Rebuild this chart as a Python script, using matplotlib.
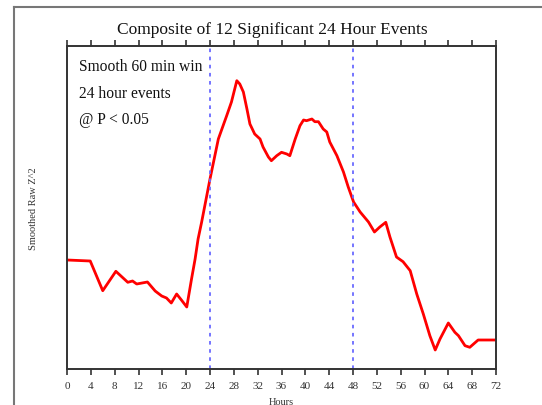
import matplotlib
matplotlib.use("Agg")
import matplotlib.pyplot as plt
from matplotlib.lines import Line2D

plt.rcParams['font.family'] = ['Liberation Serif', 'DejaVu Serif']

hours = [0, 3.9, 6.0, 8.2, 10.2, 11.0, 11.7, 13.5, 14.8, 15.9, 16.7, 17.5, 18.4, 19.2, 20.1,
         20.9, 21.5, 22.0, 22.6, 24.0, 25.4, 26.0, 26.8, 27.6, 28.5, 29.0, 29.6, 30.2, 30.7,
         31.5, 32.4, 32.9, 33.8, 34.3, 35.2, 36.0, 36.9, 37.4, 38.3, 39.1, 39.7, 40.2, 41.1,
         41.6, 42.2, 43.0, 43.6, 44.1, 45.3, 46.4, 47.2, 48.1, 49.2, 50.6, 51.6, 52.5, 53.5,
         54.2, 55.3, 56.4, 57.6, 58.7, 59.8, 60.9, 61.8, 62.6, 64.0, 65.1, 65.7, 66.8, 67.6,
         69.0, 72.0]
pix = [261, 262, 291.7, 272.3, 283.3, 282, 285, 283, 292, 297, 299, 304, 295, 301, 308,
       280, 260, 240, 223, 180, 140, 130, 116.7, 103, 81.7, 85, 93, 110, 125,
       135, 140, 148, 158, 161.7, 156.7, 153.3, 155, 156.7, 140, 126.7, 121, 121.7, 120,
       122.7, 122.7, 130, 133, 143, 156.7, 173, 188, 203, 213, 223, 233, 228, 223.3,
       238, 258, 262.7, 271.7, 295, 315, 336.7, 351, 340, 324, 333.3, 336.7, 346.7, 348.3,
       341, 341]
values = [370 - p for p in pix]
event_lines = [24, 48]
xticks = list(range(0, 73, 4))
notes = ["Smooth 60 min win", "24 hour events", "@ P < 0.05"]

fig = plt.figure(figsize=(5.42, 4.06), dpi=100)
ax = fig.add_axes([67/542, 1 - 370/406, 429/542, 323/406])

ax.plot(hours, values, color='#ff0000', lw=2.0, solid_joinstyle='round')
for h in event_lines:
    ax.axvline(h, color='#6a6aff', lw=1.3, linestyle=(0, (2, 2.5)))

ax.set_xlim(0, 72)
ax.set_ylim(0, 323)
ax.set_xticks(xticks)
ax.set_xticklabels([str(t) for t in xticks], fontsize=8, color='#333333')
ax.set_yticks([])
ax.tick_params(axis='x', which='both', direction='out', length=4, width=1.2,
               color='#333333', top=True, labeltop=False, pad=5)
for s in ax.spines.values():
    s.set_color('#333333')
    s.set_linewidth(1.4)

ax.set_xlabel("Hours", fontsize=7.5, color='#333333', labelpad=5)
ax.set_ylabel("Smoothed Raw Z^2", fontsize=7.5, color='#333333')
ax.yaxis.set_label_coords(-(67 - 38) / 429, 0.5)
fig.text(272/542, 1 - 30/406, "Composite of 12 Significant 24 Hour Events",
         ha='center', va='center', fontsize=12.5, color='#111111')
for i, t in enumerate(notes):
    fig.text(79/542, 1 - (67 + 26.5*i)/406, t, ha='left', va='center',
             fontsize=11.2, color='#111111')

fig.add_artist(Line2D([14/542, 1], [1 - 8/406, 1 - 8/406], transform=fig.transFigure,
                      color='#777777', lw=1.5))
fig.add_artist(Line2D([14/542, 14/542], [0, 1 - 8/406], transform=fig.transFigure,
                      color='#777777', lw=1.5))

fig.savefig("out.png", dpi=100)
